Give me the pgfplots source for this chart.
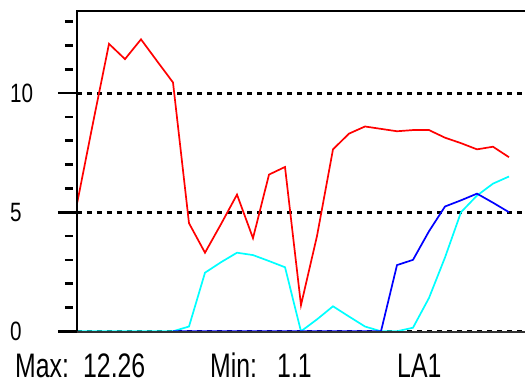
\documentclass[border=0pt]{standalone}
\usepackage{pgfplots}
\pgfplotsset{compat=1.18}
\usepackage{fontspec}
\setmainfont{Liberation Sans}
\newfontfamily\tickfont[FakeStretch=0.78]{Liberation Sans}
\newfontfamily\botfont[FakeStretch=0.73]{Liberation Sans}
\definecolor{cR}{RGB}{255,0,0}
\definecolor{cC}{RGB}{0,255,255}
\definecolor{cB}{RGB}{0,0,255}
\begin{document}
\begin{tikzpicture}
\useasboundingbox (-77bp,-51bp) rectangle (448bp,332bp);
\begin{axis}[
  at={(0,0)}, anchor=south west,
  scale only axis, width=448bp, height=321bp,
  xmin=0, xmax=28, ymin=-0.03, ymax=13.45,
  axis line style={draw=none},
  xtick=\empty,
  ytick pos=left,
  ytick={0,5,10}, minor ytick={1,2,3,4,6,7,8,9,11,12,13},
  tick align=outside,
  major tick length=19bp,
  minor tick length=8bp,
  every major tick/.style={line width=2.6bp, black},
  every minor tick/.style={line width=2.6bp, black, xshift=-4bp},
  ymajorgrids,
  major grid style={black, line width=2.8bp, dash pattern=on 5bp off 5bp},
  yticklabel style={anchor=west, xshift=-48bp, inner sep=0pt, font=\tickfont\fontsize{26.5bp}{28bp}\selectfont},
  /pgf/number format/assume math mode=true,
  clip=false,
]
\addplot[cC, line width=1.7bp] coordinates {
(0,0) (1,0) (2,0) (3,0) (4,0) (5,0) (6,0) (7,0.2) (8,2.46) (9,2.9) (10,3.3) (11,3.2) (12,2.95) (13,2.69) (14,0) (15,0.5) (16,1.05) (17,0.62) (18,0.2) (19,0) (20,0) (21,0.15) (22,1.4) (23,3.1) (24,5.0) (25,5.7) (26,6.2) (27,6.5)
};
\addplot[cB, line width=1.7bp] coordinates {
(6,0) (7,0) (8,0) (9,0) (10,0) (11,0) (12,0) (13,0) (14,0) (15,0) (16,0) (17,0) (18,0) (19,0) (20,2.78) (21,3.0) (22,4.2) (23,5.24) (24,5.5) (25,5.78) (26,5.4) (27,5.0)
};
\addplot[cR, line width=1.7bp] coordinates {
(0,5.35) (1,8.75) (2,12.07) (3,11.43) (4,12.26) (5,11.35) (6,10.45) (7,4.54) (8,3.3) (9,4.5) (10,5.74) (11,3.91) (12,6.58) (13,6.9) (14,1.1) (15,4.0) (16,7.64) (17,8.3) (18,8.6) (19,8.5) (20,8.4) (21,8.45) (22,8.45) (23,8.13) (24,7.9) (25,7.64) (26,7.75) (27,7.31)
};
\draw[black, line width=2.4bp] (rel axis cs:0,0) -- (rel axis cs:0,1) -- (rel axis cs:1,1);
\draw[black!80, line width=2bp] (rel axis cs:0,0) -- (rel axis cs:1,0);
\end{axis}
\begin{scope}[every node/.style={anchor=base west, inner sep=0pt, font=\botfont\fontsize{34bp}{37bp}\selectfont}]
\node at (-62bp,-45bp) {Max:};
\node at (6bp,-45bp) {12.26};
\node at (133bp,-45bp) {Min:};
\node at (200bp,-45bp) {1.1};
\node at (320bp,-45bp) {LA1};
\end{scope}
\end{tikzpicture}
\end{document}
